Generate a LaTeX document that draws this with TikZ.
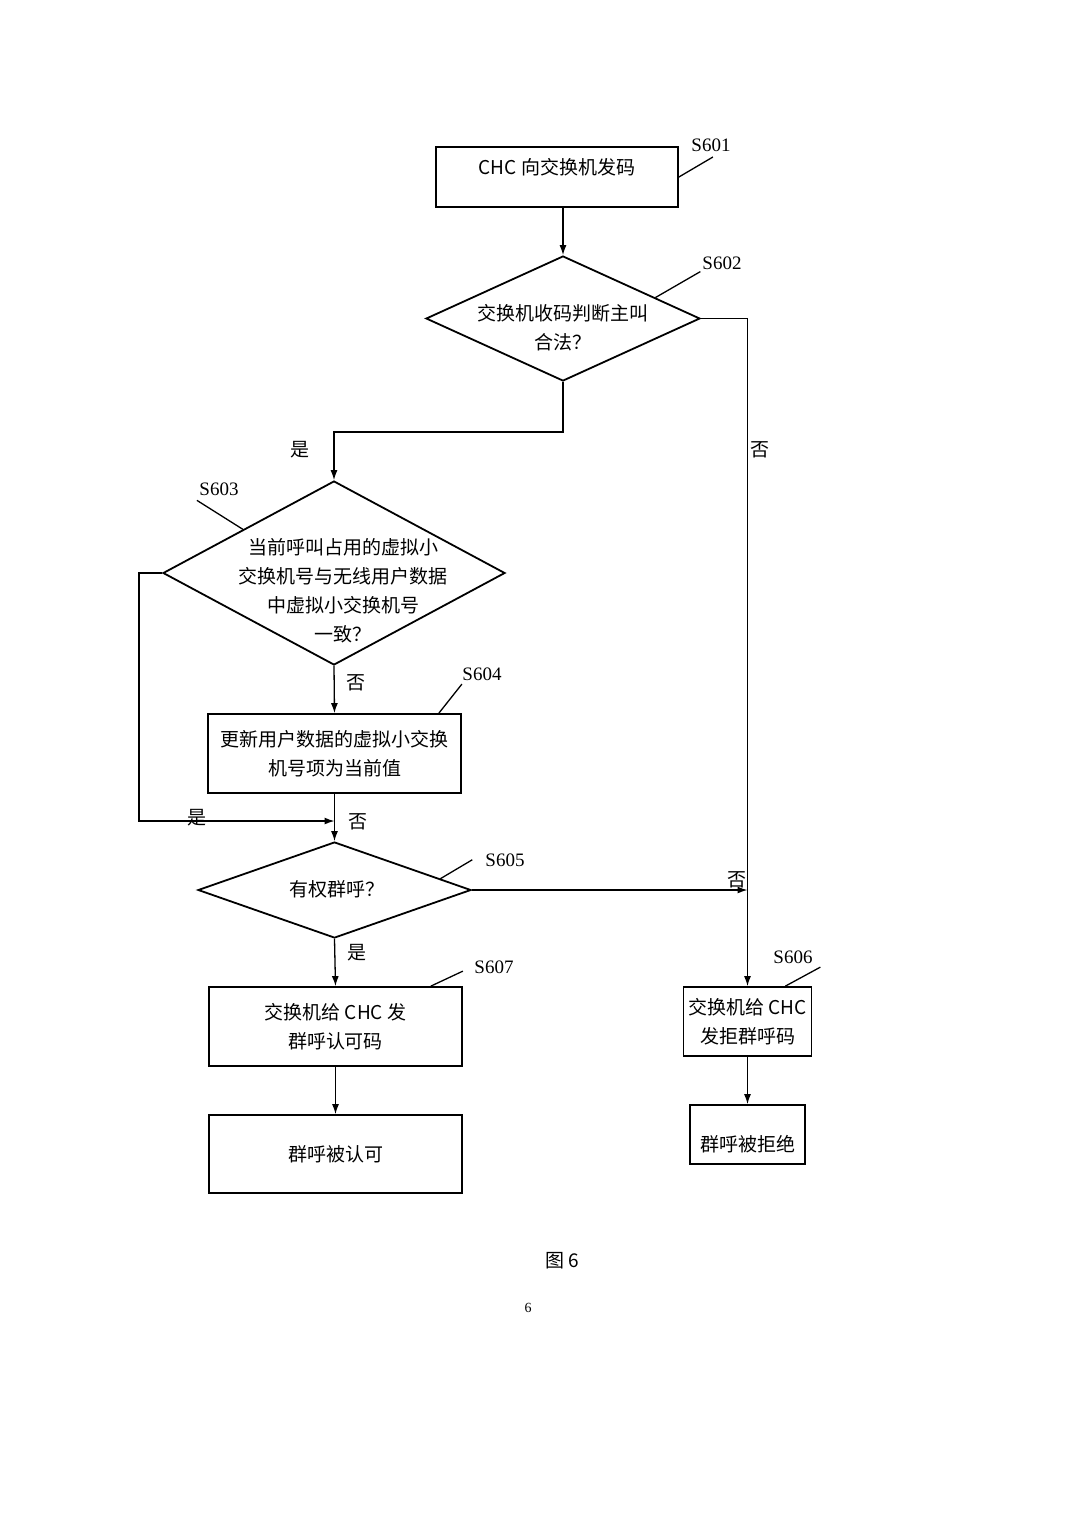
\documentclass[tikz,border=0pt]{standalone}
\usepackage{fontspec}
\setmainfont{Liberation Serif}
\newfontfamily\cjk{Noto Sans CJK SC}
\usetikzlibrary{shapes.geometric,arrows.meta,positioning,calc}
\tikzset{
  box/.style={draw,rectangle,line width=0.9pt,inner sep=0pt,font=\cjk\fontsize{9.5}{14.5}\selectfont,align=center},
  decision/.style={draw,diamond,line width=0.9pt,inner sep=0pt},
  txt/.style={font=\cjk\fontsize{9.5}{14.5}\selectfont,align=center,inner sep=0pt},
  steplabel/.style={font=\fontsize{9.5}{11}\selectfont,inner sep=0pt},
  flow/.style={-{Latex[length=5pt,width=3.5pt]},line width=0.65pt},
  lead/.style={line width=0.65pt}
}
\begin{document}
\begin{tikzpicture}[x=0.5pt,y=-0.5pt]
\useasboundingbox (0,0) rectangle (1080,1528);
% draw boxes
\node[box,minimum width=121pt,minimum height=30pt] (s601) at (557,177) {};
\node[txt] (s601txt) at (557,167) {CHC 向交换机发码};
\node[decision,minimum width=137pt,minimum height=62.5pt] (s602) at (563,318.5) {};
\node[txt] (s602txt) at (563,328) {交换机收码判断主叫\\合法？};
\node[decision,minimum width=171pt,minimum height=92pt] (s603) at (334,573) {};
\node[txt] (s603txt) at (343,591) {当前呼叫占用的虚拟小\\交换机号与无线用户数据\\中虚拟小交换机号\\一致？};
\node[box,minimum width=126.5pt,minimum height=39.5pt] (s604) at (334.5,753.5) {更新用户数据的虚拟小交换\\机号项为当前值};
\node[decision,minimum width=136.5pt,minimum height=48pt] (s605) at (334.5,890) {};
\node[txt] (s605txt) at (337,889) {有权群呼？};
\node[box,minimum width=126.5pt,minimum height=39.5pt] (s607) at (335.5,1026.5) {交换机给 CHC 发\\群呼认可码};
\node[box,minimum width=126.5pt,minimum height=39pt] (accept) at (335.5,1154) {群呼被认可};
\node[box,minimum width=64pt,minimum height=34.5pt] (s606) at (747.5,1021.5) {交换机给 CHC\\发拒群呼码};
\node[box,minimum width=57.5pt,minimum height=29.5pt] (reject) at (747.5,1134.5) {};
\node[txt] (rejecttxt) at (747.5,1144) {群呼被拒绝};
\coordinate (join) at (334.5,821);
% draw step labels
\node[steplabel] (l601) at (711,145) {S601};
\node[steplabel] (l602) at (722,263) {S602};
\node[steplabel] (l603) at (219,489) {S603};
\node[steplabel] (l604) at (482,674) {S604};
\node[steplabel] (l605) at (505,860) {S605};
\node[steplabel] (l607) at (494,967) {S607};
\node[steplabel] (l606) at (793,957) {S606};
\draw[lead] (s601.east) -- ++(34,-20);
\draw[lead] ($(s602.north)!0.67!(s602.east)$) -- ++(45,-26);
\draw[lead] ($(s603.north)!0.53!(s603.west)$) -- ++(-46,-29);
\draw[lead] ($(s604.north east)+(-23,0)$) -- ++(23,-29);
\draw[lead] ($(s605.north)!0.77!(s605.east)$) -- ++(32,-19);
\draw[lead] ($(s607.north east)+(-32,0)$) -- ++(32,-15);
\draw[lead] ($(s606.north east)+(-27,0)$) -- ++(35,-19);
% draw connectors
\draw[flow] (s601.south -| s602.north) -- (s602.north);
\draw[flow] (s602.south) -- ++(0,50) -| (s603.north);
\draw[flow] (s602.east) -| (s606.north);
\draw[flow] (s603.south) -- (s604.north);
\draw[flow] (s603.west) -- ++(-23,0) |- (join);
\draw[flow] (s604.south) -- (s605.north);
\draw[flow] (s605.east) -- (s605.east -| s606.north);
\draw[flow] (s605.south) -- (s607.north);
\draw[flow] (s607.south) -- (accept.north);
\draw[flow] (s606.south) -- (reject.north);
% draw yes/no labels
\node[txt] (yes1) at (300,450) {是};
\node[txt] (no1) at (760,450) {否};
\node[txt] (no2) at (356,683) {否};
\node[txt] (yes2) at (197,818) {是};
\node[txt] (no3) at (358,822) {否};
\node[txt] (no4) at (737,880) {否};
\node[txt] (yes3) at (357,953) {是};
% draw caption
\node[txt] (caption) at (562,1261) {图 6};
\node[font=\fontsize{7}{8}\selectfont,inner sep=0pt] (page) at (528,1308) {6};
\end{tikzpicture}
\end{document}
